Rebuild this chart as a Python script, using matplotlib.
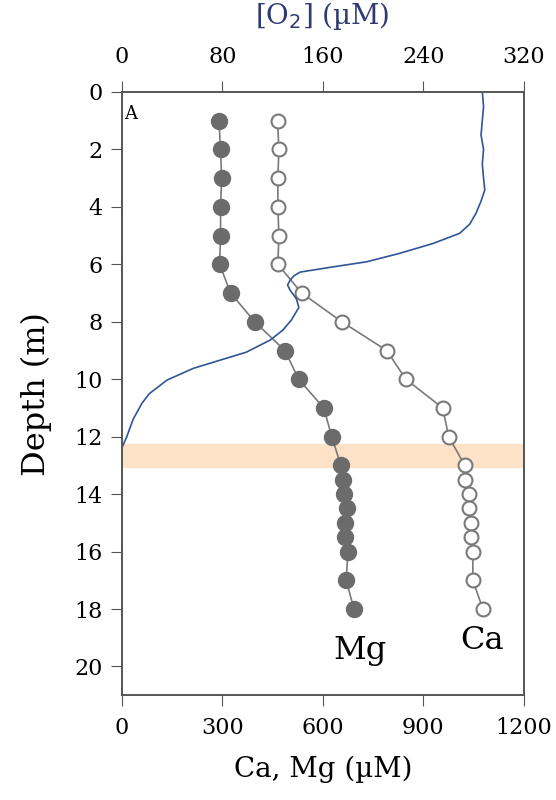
import matplotlib
matplotlib.use("Agg")
import matplotlib.pyplot as plt

plt.rcParams['font.family'] = ['DejaVu Serif']

# Mg and Ca profiles (uM) vs depth (m)
depth = [1, 2, 3, 4, 5, 6, 7, 8, 9, 10, 11, 12, 13, 13.5, 14, 14.5, 15, 15.5, 16, 17, 18]
mg = [290, 295, 298, 295, 295, 292, 325, 397, 487, 528, 603, 627, 654, 660, 662, 671, 665, 665, 675, 670, 693]
ca = [465, 469, 466, 466, 469, 466, 537, 657, 791, 848, 958, 976, 1024, 1024, 1036, 1036, 1042, 1042, 1048, 1048, 1078]

# O2 sensor profile (uM)
o2_depth = [0, 0.5, 1, 1.5, 2, 2.5, 3, 3.41, 3.8, 4.22, 4.6, 4.92, 5.27, 5.62, 5.91, 6.09, 6.27, 6.4, 6.55,
            6.72, 6.9, 7.2, 7.5, 7.94, 8.3, 8.64, 9.06, 9.34, 9.62, 10.03, 10.5, 10.84, 11.4, 12.0, 12.4]
o2 = [287, 288, 287, 286, 288, 287, 288, 289, 286, 282, 277, 269, 248, 221, 195, 168, 142, 137, 134,
      132, 134, 139, 141, 135, 128, 118, 99, 78, 57, 36, 22, 16, 9, 4, 0]

fig = plt.figure(figsize=(5.56, 8), dpi=100)
ax = fig.add_axes([0.219, 0.131, 0.723, 0.754])

ax.axhspan(12.25, 13.05, color='#fde2c8', zorder=0)

ax.plot(mg, depth, color='#7a7a7a', lw=1.2, marker='o', ms=11.5,
        mfc='#6b6b6b', mec='#6b6b6b', zorder=3)
ax.plot(ca, depth, color='#7a7a7a', lw=1.2, marker='o', ms=10,
        mfc='white', mec='#7a7a7a', mew=1.5, zorder=3)

ax.set_xlim(0, 1200)
ax.set_ylim(21, 0)
ax.set_xticks([0, 300, 600, 900, 1200])
ax.set_yticks(range(0, 21, 2))
ax.set_xlabel('Ca, Mg (\u00b5M)', fontsize=20, labelpad=12)
ax.set_ylabel('Depth (m)', fontsize=23, labelpad=16)
ax.tick_params(labelsize=16, color='#555555', length=8, direction='out', pad=8)
ax.tick_params(axis='y', pad=6)

ax.text(710, 19.45, 'Mg', fontsize=23, ha='center', va='center')
ax.text(1075, 19.1, 'Ca', fontsize=23, ha='center', va='center')
ax.text(25, 0.75, 'A', fontsize=13, ha='center', va='center')

ax2 = ax.twiny()
ax2.plot(o2, o2_depth, color='#2f5597', lw=1.2, zorder=2)
ax2.set_xlim(0, 320)
ax2.set_xticks([0, 80, 160, 240, 320])
ax2.set_xlabel('[O$_2$] (\u00b5M)', fontsize=20, color='#2e3a73', labelpad=16)
ax2.tick_params(labelsize=16, color='#555555', direction='out', length=8, pad=9)

for a in (ax, ax2):
    for s in a.spines.values():
        s.set_color('#555555')
        s.set_linewidth(1.2)

fig.savefig('out.png', dpi=100)
